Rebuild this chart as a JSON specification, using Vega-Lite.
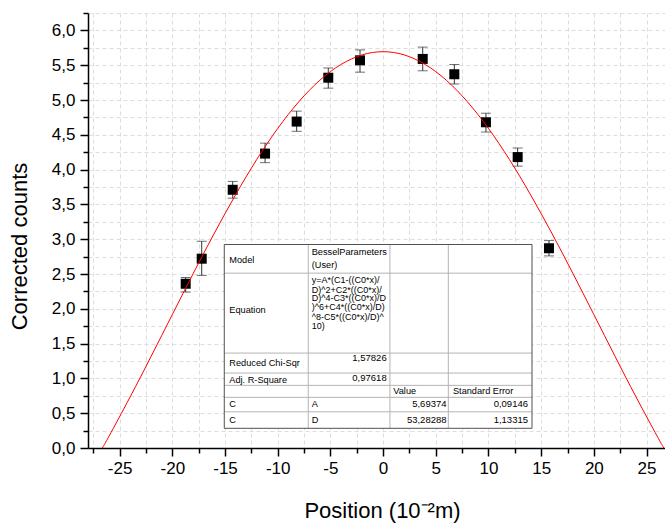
{
  "$schema": "https://vega.github.io/schema/vega-lite/v6.json",
  "width": 577,
  "height": 435,
  "autosize": {"type": "none"},
  "padding": {"left": 88, "top": 13, "right": 0, "bottom": 76},
  "background": "white",
  "config": {"view": {"stroke": null}, "font": "Liberation Sans"},
  "datasets": {
    "pts": [
      {"x": -18.73, "y": 2.36, "lo": 2.24, "hi": 2.45},
      {"x": -17.21, "y": 2.72, "lo": 2.48, "hi": 2.97},
      {"x": -14.27, "y": 3.71, "lo": 3.59, "hi": 3.83},
      {"x": -11.2, "y": 4.23, "lo": 4.1, "hi": 4.38},
      {"x": -8.2, "y": 4.69, "lo": 4.55, "hi": 4.84},
      {"x": -5.2, "y": 5.32, "lo": 5.17, "hi": 5.46},
      {"x": -2.19, "y": 5.57, "lo": 5.4, "hi": 5.72},
      {"x": 3.76, "y": 5.59, "lo": 5.42, "hi": 5.76},
      {"x": 6.76, "y": 5.37, "lo": 5.23, "hi": 5.51},
      {"x": 9.76, "y": 4.68, "lo": 4.54, "hi": 4.81},
      {"x": 12.77, "y": 4.18, "lo": 4.05, "hi": 4.31},
      {"x": 15.74, "y": 2.87, "lo": 2.76, "hi": 2.98}
    ],
    "curve": [
      {"x": -28, "y": -0.354}, {"x": -26.64, "y": 0}, {"x": -26, "y": 0.171},
      {"x": -24, "y": 0.734}, {"x": -22, "y": 1.32}, {"x": -20, "y": 1.917},
      {"x": -18, "y": 2.512}, {"x": -16, "y": 3.089}, {"x": -14, "y": 3.637},
      {"x": -12, "y": 4.142}, {"x": -10, "y": 4.591}, {"x": -8, "y": 4.975},
      {"x": -6, "y": 5.284}, {"x": -4, "y": 5.51}, {"x": -2, "y": 5.648},
      {"x": 0, "y": 5.694}, {"x": 2, "y": 5.648}, {"x": 4, "y": 5.51},
      {"x": 6, "y": 5.284}, {"x": 8, "y": 4.975}, {"x": 10, "y": 4.591},
      {"x": 12, "y": 4.142}, {"x": 14, "y": 3.637}, {"x": 16, "y": 3.089},
      {"x": 18, "y": 2.512}, {"x": 20, "y": 1.917}, {"x": 22, "y": 1.32},
      {"x": 24, "y": 0.734}, {"x": 26, "y": 0.171}, {"x": 26.64, "y": 0},
      {"x": 28, "y": -0.354}
    ],
    "tbox": [{"x": -15.07, "x2": 14.13, "y": 2.924, "y2": 0.283}],
    "hlines": [
      {"x": -15.07, "x2": 14.13, "y": 2.512},
      {"x": -15.07, "x2": 14.13, "y": 1.364},
      {"x": -15.07, "x2": 14.13, "y": 1.077},
      {"x": -15.07, "x2": 14.13, "y": 0.9},
      {"x": -15.07, "x2": 14.13, "y": 0.728},
      {"x": -15.07, "x2": 14.13, "y": 0.52}
    ],
    "vlines": [
      {"x": -7.1, "y": 2.924, "y2": 0.283},
      {"x": 0.65, "y": 2.924, "y2": 0.283},
      {"x": 6.19, "y": 2.924, "y2": 0.283}
    ],
    "texts": [
      {"x": -14.59, "y": 2.694, "t": "Model", "a": "l"},
      {"x": -6.77, "y": 2.813, "t": "BesselParameters", "a": "l"},
      {"x": -6.77, "y": 2.632, "t": " (User)", "a": "l"},
      {"x": -14.59, "y": 1.976, "t": "Equation", "a": "l"},
      {"x": -14.59, "y": 1.22, "t": "Reduced Chi-Sqr", "a": "l"},
      {"x": -14.59, "y": 0.972, "t": "Adj. R-Square", "a": "l"},
      {"x": 0.97, "y": 0.818, "t": "Value", "a": "l"},
      {"x": 6.63, "y": 0.818, "t": "Standard Error", "a": "l"},
      {"x": -14.59, "y": 0.628, "t": "C", "a": "l"},
      {"x": -6.77, "y": 0.628, "t": "A", "a": "l"},
      {"x": -14.59, "y": 0.4, "t": "C", "a": "l"},
      {"x": -6.77, "y": 0.4, "t": "D", "a": "l"},
      {"x": 0.34, "y": 1.298, "t": "1,57826", "a": "r"},
      {"x": 0.34, "y": 1.01, "t": "0,97618", "a": "r"},
      {"x": 6.02, "y": 0.628, "t": "5,69374", "a": "r"},
      {"x": 13.75, "y": 0.628, "t": "0,09146", "a": "r"},
      {"x": 6.02, "y": 0.4, "t": "53,28288", "a": "r"},
      {"x": 13.75, "y": 0.4, "t": "1,13315", "a": "r"}
    ],
    "eq": [
      {"x": -6.77, "y": 2.407, "t": "y=A*(C1-((C0*x)/"},
      {"x": -6.77, "y": 2.277, "t": "D)^2+C2*((C0*x)/"},
      {"x": -6.77, "y": 2.148, "t": "D)^4-C3*((C0*x)/D"},
      {"x": -6.77, "y": 2.019, "t": ")^6+C4*((C0*x)/D)"},
      {"x": -6.77, "y": 1.889, "t": "^8-C5*((C0*x)/D)^"},
      {"x": -6.77, "y": 1.76, "t": "10)"}
    ]
  },
  "layer": [
    {
      "data": {"name": "pts"},
      "mark": {"type": "rule", "color": "#333333", "strokeWidth": 1},
      "encoding": {
        "x": {
          "field": "x", "type": "quantitative",
          "scale": {"domain": [-28, 26.75], "nice": false, "zero": false},
          "axis": {
            "orient": "bottom",
            "values": [-27.5, -25, -22.5, -20, -17.5, -15, -12.5, -10, -7.5, -5, -2.5, 0, 2.5, 5, 7.5, 10, 12.5, 15, 17.5, 20, 22.5, 25],
            "tickCount": 200,
            "labelExpr": "abs(datum.value/5 - round(datum.value/5)) < 0.001 ? '' + datum.value : ''",
            "labelOverlap": false,
            "labelFont": "Liberation Sans", "labelFontSize": 17, "labelColor": "black", "labelPadding": 4,
            "tickColor": "black", "tickWidth": 1.5,
            "tickSize": {"condition": {"test": "abs(datum.value/5 - round(datum.value/5)) < 0.001", "value": 8}, "value": 5},
            "domainColor": "black", "domainWidth": 1.5,
            "grid": true, "gridColor": "#dddddd", "gridDash": [4, 3], "gridWidth": 1,
            "title": "Position (10⁻²m)",
            "titleFont": "Liberation Sans", "titleFontSize": 22, "titleFontWeight": "normal", "titleColor": "black",
            "titleX": 294, "titleY": 69, "titleBaseline": "alphabetic"
          }
        },
        "y": {
          "field": "lo", "type": "quantitative",
          "scale": {"domain": [0, 6.25], "nice": false, "zero": false},
          "axis": {
            "orient": "left",
            "values": [0, 0.25, 0.5, 0.75, 1, 1.25, 1.5, 1.75, 2, 2.25, 2.5, 2.75, 3, 3.25, 3.5, 3.75, 4, 4.25, 4.5, 4.75, 5, 5.25, 5.5, 5.75, 6, 6.25],
            "tickCount": 200,
            "labelExpr": "abs(datum.value*2 - round(datum.value*2)) < 0.001 ? replace(format(datum.value, '.1f'), '.', ',') : ''",
            "labelOverlap": false,
            "labelFont": "Liberation Sans", "labelFontSize": 17, "labelColor": "black", "labelPadding": 5,
            "tickColor": "black", "tickWidth": 1.5,
            "tickSize": {"condition": {"test": "abs(datum.value*2 - round(datum.value*2)) < 0.001", "value": 8}, "value": 5},
            "domainColor": "black", "domainWidth": 1.5,
            "grid": true, "gridColor": "#dddddd", "gridDash": [4, 3], "gridWidth": 1,
            "title": "Corrected counts",
            "titleFont": "Liberation Sans", "titleFontSize": 22, "titleFontWeight": "normal", "titleColor": "black",
            "titleX": -62, "titleY": 233, "titleBaseline": "alphabetic", "titleAlign": "center", "titleAngle": -90
          }
        },
        "y2": {"field": "hi"}
      }
    },
    {
      "data": {"name": "pts"},
      "mark": {"type": "tick", "orient": "horizontal", "color": "#333333", "size": 10, "thickness": 1},
      "encoding": {
        "x": {"field": "x", "type": "quantitative"},
        "y": {"field": "lo", "type": "quantitative"}
      }
    },
    {
      "data": {"name": "pts"},
      "mark": {"type": "tick", "orient": "horizontal", "color": "#333333", "size": 10, "thickness": 1},
      "encoding": {
        "x": {"field": "x", "type": "quantitative"},
        "y": {"field": "hi", "type": "quantitative"}
      }
    },
    {
      "data": {"name": "pts"},
      "mark": {"type": "point", "shape": "square", "filled": true, "color": "black", "size": 100, "opacity": 1},
      "encoding": {
        "x": {"field": "x", "type": "quantitative"},
        "y": {"field": "y", "type": "quantitative"}
      }
    },
    {
      "data": {"name": "curve"},
      "mark": {"type": "line", "color": "#ff0000", "strokeWidth": 1, "interpolate": "natural", "clip": true},
      "encoding": {
        "x": {"field": "x", "type": "quantitative"},
        "y": {"field": "y", "type": "quantitative"}
      }
    },
    {
      "data": {"name": "tbox"},
      "mark": {"type": "rect", "fill": "white", "strokeWidth": 0},
      "encoding": {
        "x": {"field": "x", "type": "quantitative"},
        "x2": {"field": "x2"},
        "y": {"field": "y", "type": "quantitative"},
        "y2": {"field": "y2"}
      }
    },
    {
      "data": {"name": "hlines"},
      "mark": {"type": "rule", "color": "#b4b4b4", "strokeWidth": 1},
      "encoding": {
        "x": {"field": "x", "type": "quantitative"},
        "x2": {"field": "x2"},
        "y": {"field": "y", "type": "quantitative"}
      }
    },
    {
      "data": {"name": "vlines"},
      "mark": {"type": "rule", "color": "#b4b4b4", "strokeWidth": 1},
      "encoding": {
        "x": {"field": "x", "type": "quantitative"},
        "y": {"field": "y", "type": "quantitative"},
        "y2": {"field": "y2"}
      }
    },
    {
      "data": {"name": "tbox"},
      "mark": {"type": "rect", "fill": null, "fillOpacity": 0, "stroke": "#505050", "strokeWidth": 1},
      "encoding": {
        "x": {"field": "x", "type": "quantitative"},
        "x2": {"field": "x2"},
        "y": {"field": "y", "type": "quantitative"},
        "y2": {"field": "y2"}
      }
    },
    {
      "data": {"name": "texts"},
      "transform": [{"filter": "datum.a == 'l'"}],
      "mark": {"type": "text", "align": "left", "baseline": "middle", "font": "Liberation Sans", "fontSize": 9.2, "color": "black"},
      "encoding": {
        "x": {"field": "x", "type": "quantitative"},
        "y": {"field": "y", "type": "quantitative"},
        "text": {"field": "t"}
      }
    },
    {
      "data": {"name": "eq"},
      "mark": {"type": "text", "align": "left", "baseline": "middle", "font": "Liberation Sans", "fontSize": 9, "color": "black"},
      "encoding": {
        "x": {"field": "x", "type": "quantitative"},
        "y": {"field": "y", "type": "quantitative"},
        "text": {"field": "t"}
      }
    },
    {
      "data": {"name": "texts"},
      "transform": [{"filter": "datum.a == 'r'"}],
      "mark": {"type": "text", "align": "right", "baseline": "middle", "font": "Liberation Sans", "fontSize": 9.5, "color": "black"},
      "encoding": {
        "x": {"field": "x", "type": "quantitative"},
        "y": {"field": "y", "type": "quantitative"},
        "text": {"field": "t"}
      }
    }
  ]
}
